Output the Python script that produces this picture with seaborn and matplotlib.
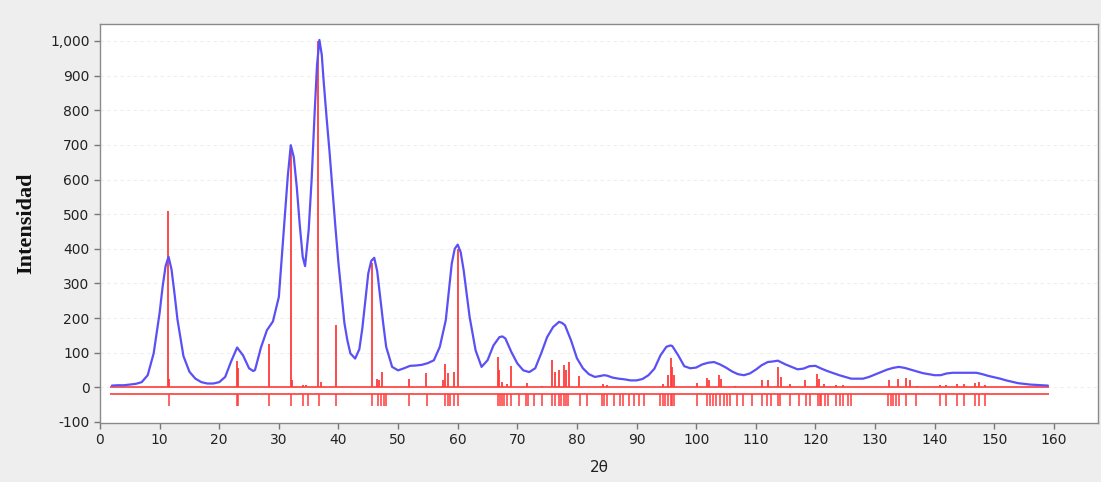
import matplotlib
matplotlib.use("Agg")
import matplotlib.pyplot as plt
import matplotlib.ticker as mticker
import seaborn as sns
import pandas as pd

# ---- observed pattern (blue) ----
obs_x = [2, 3, 4, 5, 6, 7, 8, 9, 10, 10.5, 11, 11.5, 12, 12.5, 13, 14, 15, 16, 17, 18, 19, 20,
         21, 22, 23, 24, 25, 25.7, 26, 27, 28, 29, 30, 31, 31.5, 32, 32.5, 33, 33.5, 34, 34.4,
         35, 35.5, 36, 36.4, 36.8, 37.2, 37.5, 38, 38.5, 39, 39.5, 40, 41, 41.5, 42, 42.8,
         43.5, 44, 45, 45.5, 46, 46.5, 47, 47.5, 48, 49, 50, 51, 52, 53,
         54, 55, 56, 57, 58, 59, 59.5, 60, 60.5, 61, 61.5, 62, 63, 64, 65, 66, 67, 67.5, 68,
         69, 70, 71, 72, 73, 74, 75, 76, 77, 77.5, 78, 79, 80, 81, 82, 83, 84, 84.5, 85, 86,
         87, 88, 89, 90, 91, 92, 93, 94, 95, 95.7, 96, 97, 98, 99, 100, 101, 102, 103, 104,
         105, 106, 107, 108, 109, 110, 111, 112, 113, 113.7, 115, 116, 117, 118, 119, 120,
         121, 122, 123, 124, 125, 126, 127, 128, 129, 130, 131, 132, 133, 134, 135, 136,
         137, 138, 139, 140, 141, 142, 143, 144, 145, 146, 147, 148, 149, 150, 151, 152,
         153, 154, 155, 156, 157, 158, 159]
obs_y = [5, 6, 6, 8, 10, 15, 35, 98, 215, 290, 350, 377, 340, 270, 195, 90, 45, 25, 15, 11, 11, 15,
         30, 75, 115, 92, 55, 47, 50, 115, 165, 190, 261, 492, 610, 699, 665, 579, 470, 377, 350,
         454, 600, 792, 930, 1003, 960, 887, 780, 680, 569, 460, 358, 185, 135, 98, 83,
         110, 170, 329, 365, 374, 335, 261, 185, 117, 59, 49, 55, 62, 63,
         65, 70, 78, 117, 194, 357, 400, 412, 390, 338, 270, 203, 107, 59, 78, 121, 145, 147, 141,
         102, 69, 49, 44, 55, 98, 145, 174, 189, 186, 179, 136, 84, 55, 38, 30, 33, 35, 34, 28,
         25, 23, 20, 20, 24, 35, 54, 92, 117, 121, 119, 92, 61, 55, 57, 66, 71, 73, 66,
         57, 46, 38, 35, 40, 51, 64, 73, 75, 77, 66, 59, 52, 54, 61, 62,
         54, 47, 41, 35, 30, 25, 25, 25, 30, 37, 44, 51, 56, 59, 56, 51,
         46, 41, 38, 35, 35, 40, 42, 42, 42, 42, 42, 38, 33, 29, 25, 20,
         16, 12, 10, 8, 7, 6, 5]

# ---- calculated reflections (red sticks above zero) ----
calc_pos = [11.4, 11.6, 23.0, 23.2, 28.3, 32.0, 32.2, 34.1, 34.6, 36.6, 37.0, 39.6,
            45.7, 46.4, 46.8, 47.3, 51.8, 54.7, 57.5, 57.9, 58.3, 59.4, 60.1,
            66.7, 67.0, 67.5, 68.2, 68.9, 71.6, 74.2, 75.8, 76.3, 77.0, 77.8, 78.2, 78.6,
            80.4, 84.3, 85.0, 94.4, 95.2, 95.7, 96.0, 96.3, 100.1, 101.8, 102.1, 103.9,
            104.2, 106.5, 111.0, 112.1, 113.8, 114.3, 115.8, 118.2, 120.3, 120.6, 121.5,
            123.5, 124.6, 132.4, 133.8, 135.2, 135.8, 137.0, 140.9, 141.9, 143.7, 145.0,
            146.8, 147.5, 148.4]
calc_int = [508, 25, 75, 55, 125, 700, 20, 8, 8, 1000, 15, 180,
            360, 25, 20, 45, 25, 40, 20, 66, 40, 44, 400,
            88, 49, 15, 10, 62, 12, 5, 78, 44, 49, 64, 50, 73,
            32, 10, 8, 10, 37, 85, 60, 35, 12, 28, 20, 35,
            25, 5, 20, 22, 59, 30, 11, 20, 38, 25, 10,
            8, 8, 20, 25, 28, 20, 5, 8, 8, 10, 10,
            12, 15, 8]

# ---- reflection position markers (below) ----
refl_pos = [11.5, 23.0, 23.2, 28.4, 32.1, 34.1, 34.9, 36.7, 39.6, 45.7, 46.6, 47.2, 47.6,
            48.0, 51.9, 54.8, 57.9, 58.3, 58.7, 59.4, 60.1, 66.8, 67.1, 67.5, 67.8, 68.2,
            68.9, 70.3, 71.4, 71.8, 72.8, 74.2, 75.9, 76.3, 77.0, 77.3, 77.8, 78.2, 78.5,
            80.5, 81.7, 84.2, 84.6, 85.1, 86.2, 87.2, 87.8, 88.7, 89.5, 90.4, 91.3,
            94.0, 94.4, 94.8, 95.2, 95.7, 96.0, 96.3, 100.1, 101.8, 102.3, 102.9, 103.4,
            104.0, 104.6, 105.1, 105.7, 106.8, 107.9, 109.3, 111.0, 111.8, 112.6, 113.8,
            114.1, 115.8, 117.2, 118.5, 119.1, 120.4, 120.7, 121.0, 121.6, 122.1, 123.5,
            124.1, 124.6, 125.5, 126.0, 132.2, 132.6, 133.0, 133.6, 134.1, 135.2, 136.9,
            140.9, 141.9, 143.7, 145.0, 146.8, 147.5, 148.4]

y_ticks = [-100, 0, 100, 200, 300, 400, 500, 600, 700, 800, 900, 1000]
x_ticks = list(range(0, 161, 10))

sns.set_style("white")
plt.rcParams['font.family'] = ['DejaVu Sans']

W, H = 1101, 482
fig = plt.figure(figsize=(W / 100, H / 100), dpi=100)
fig.patch.set_facecolor('#eeeeee')
ax = fig.add_axes([100 / W, 1 - 423 / H, (1098 - 100) / W, (423 - 24) / H])
ax.set_facecolor('white')

for yv in y_ticks[1:]:
    ax.axhline(yv, color='#eeeeee', lw=0.8, ls=(0, (3, 3)), zorder=0)

BLUE = '#5a50f5'
RED = '#ff3b3b'

ax.hlines([0, -20], 1.7, 159.2, color=RED, lw=1.2, zorder=2)
ax.vlines(calc_pos, 0, calc_int, color=RED, lw=1.3, zorder=2)
ax.vlines(refl_pos, -55, -20, color=RED, lw=1.1, zorder=2)

df = pd.DataFrame({'x': obs_x, 'y': obs_y})
sns.lineplot(data=df, x='x', y='y', ax=ax, color=BLUE, lw=1.6, sort=False, zorder=3)

ax.set_xlim(0, 167.4)
ax.set_ylim(-103, 1049)
ax.set_xticks(x_ticks)
ax.set_yticks(y_ticks)
ax.yaxis.set_major_formatter(mticker.FuncFormatter(lambda v, p: f"{int(v):,}"))
ax.tick_params(axis='both', direction='out', length=4, width=1, color='#777777',
               labelsize=10, labelcolor='#222222', left=True, bottom=True)
for s in ax.spines.values():
    s.set_color('#8a8a8a')
    s.set_linewidth(1)

ax.set_xlabel('2θ', fontsize=11, color='#222222', labelpad=9)
ax.set_ylabel('Intensidad', fontsize=16, fontweight='bold', color='#111111',
              family=['Liberation Serif', 'DejaVu Serif'], labelpad=10)

fig.savefig('out.png', dpi=100, facecolor=fig.get_facecolor())
